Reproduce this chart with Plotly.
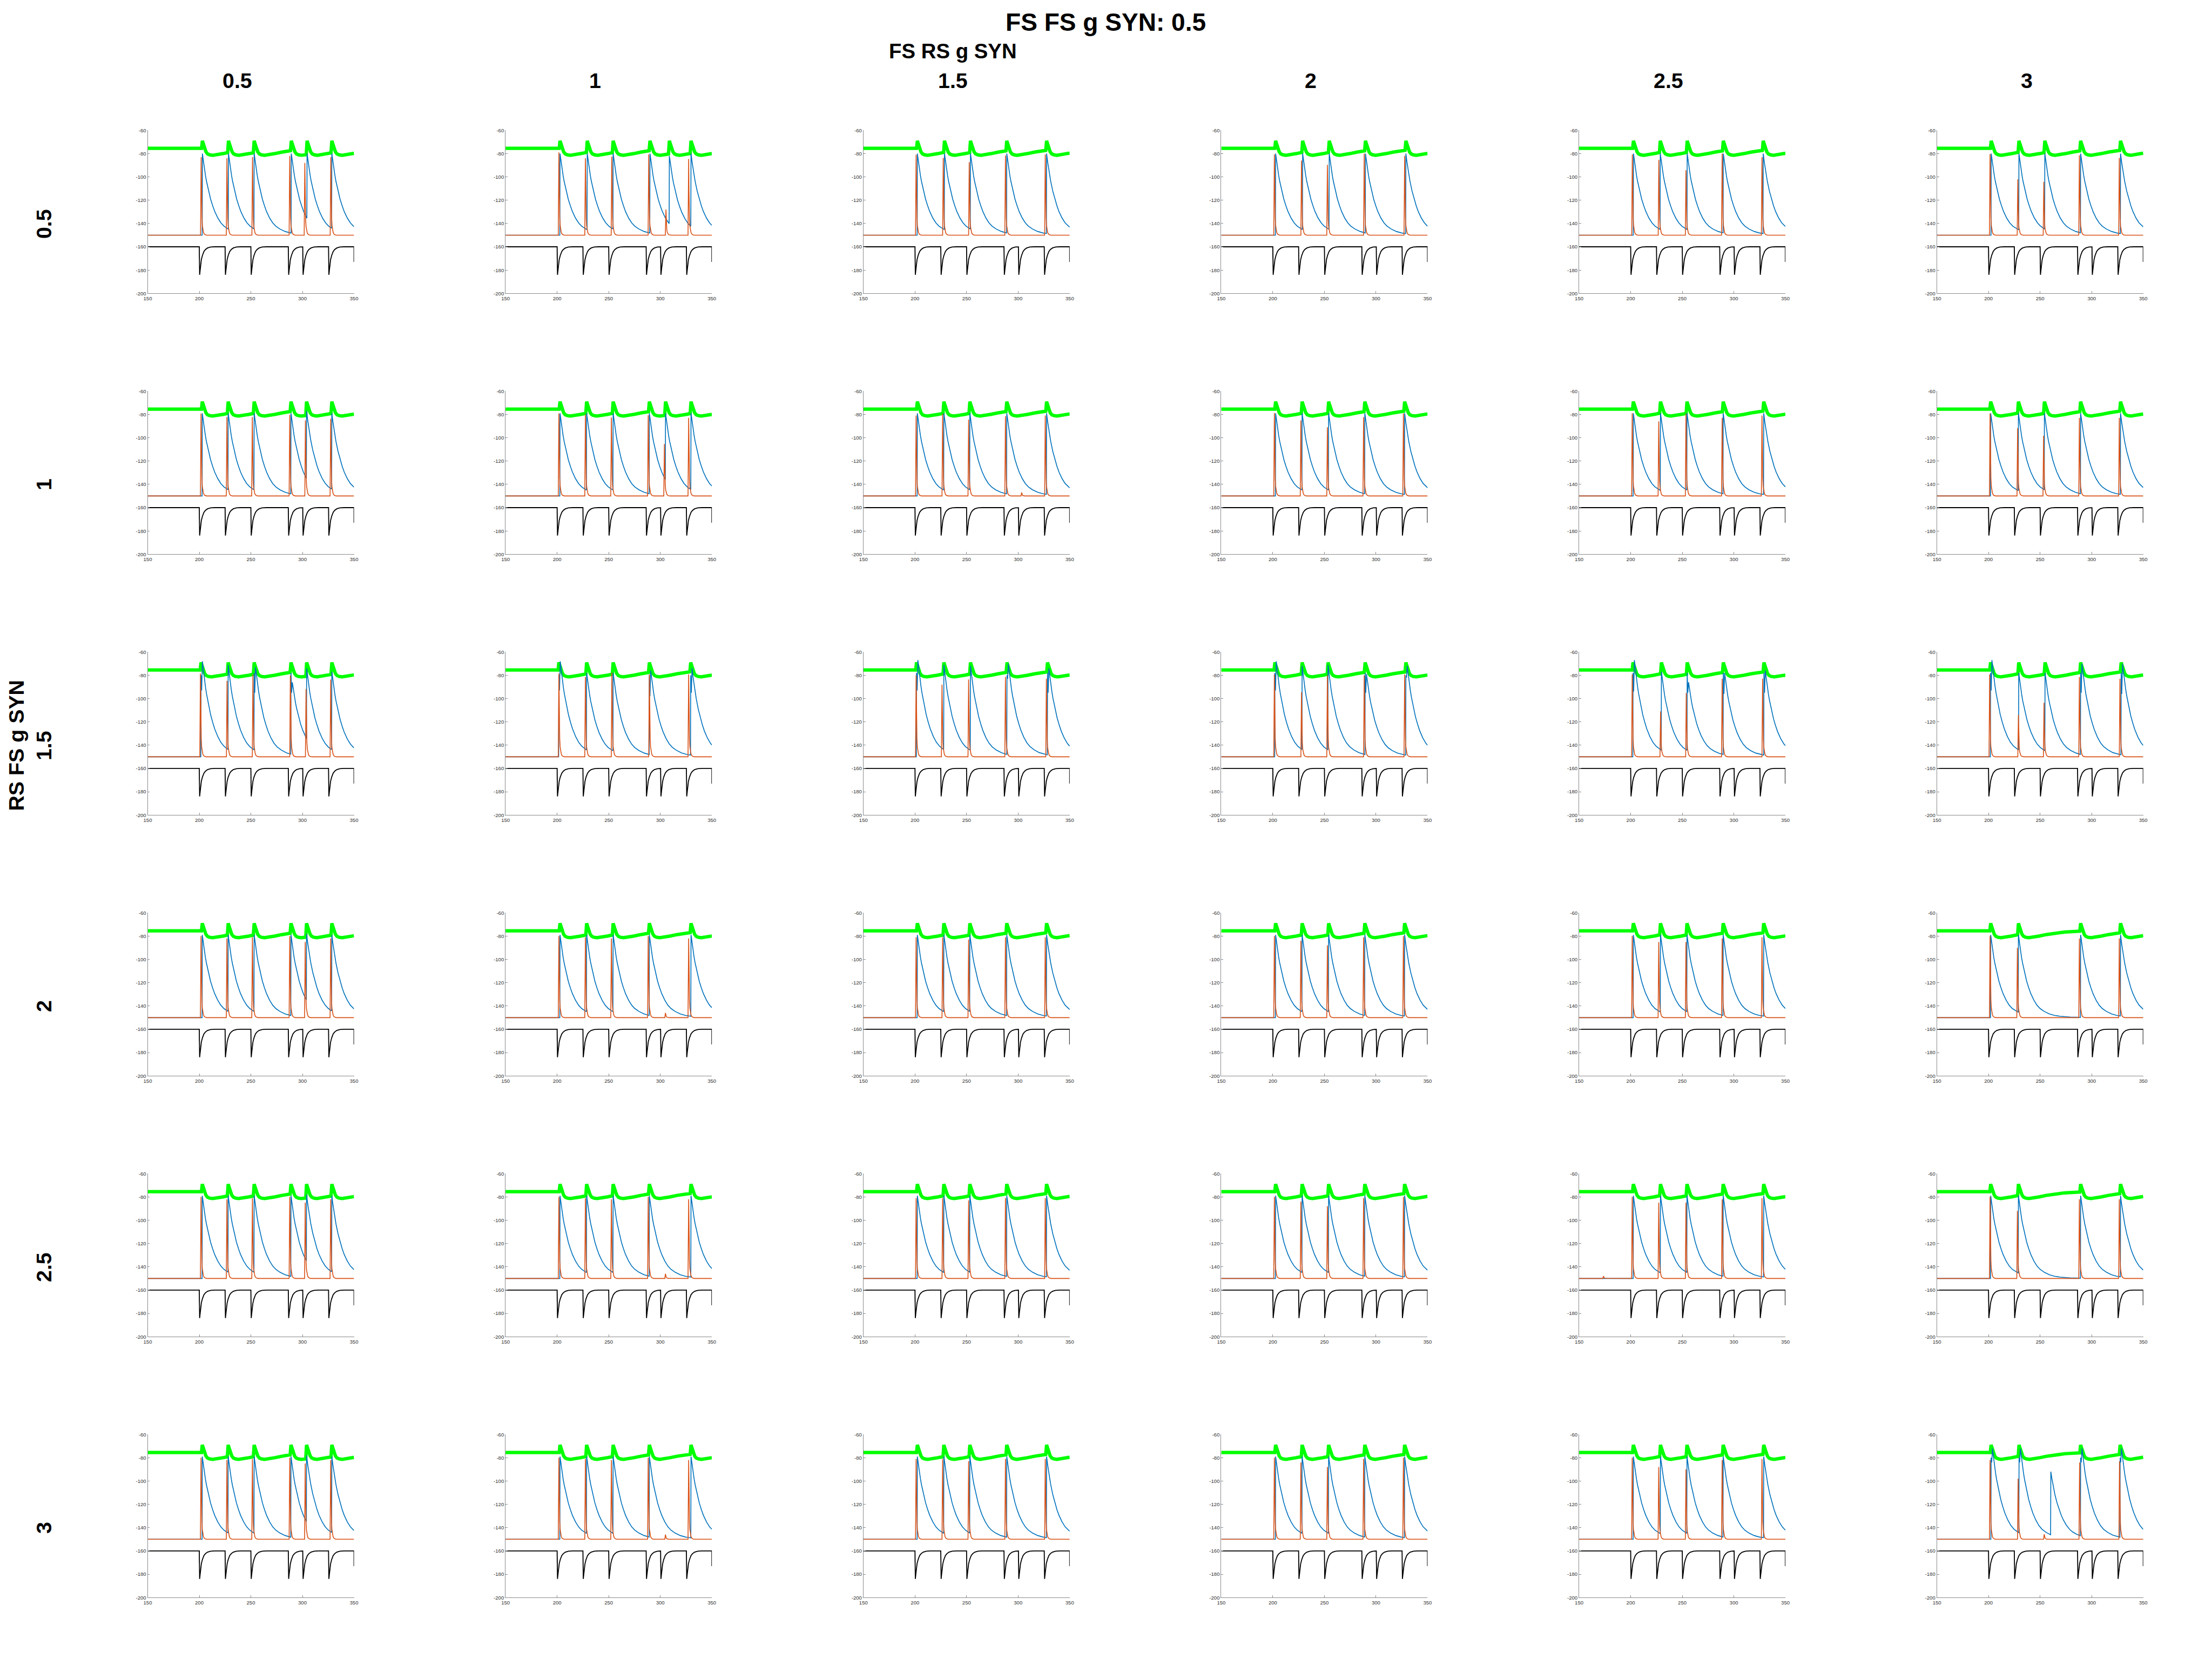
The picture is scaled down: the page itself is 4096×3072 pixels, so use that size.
import numpy as np
import plotly.graph_objects as go

# ---------------- reference geometry (reference pixels) ----------------
W, H = 4096, 3072
RW, RH = 4267, 3200
S = W / RW

# ---------------- data ----------------
TITLE = "FS FS g SYN: 0.5"
COL_TITLE = "FS RS g SYN"
ROW_TITLE = "RS FS g SYN"
COL_LABELS = ["0.5", "1", "1.5", "2", "2.5", "3"]
ROW_LABELS = ["0.5", "1", "1.5", "2", "2.5", "3"]
X_TICKS = [150, 200, 250, 300, 350]
Y_TICKS = [-200, -180, -160, -140, -120, -100, -80, -60]

# stimulus (black) input times, same in every panel; last one truncated at 350
INPUT_TIMES = [200.0, 225.0, 250.0, 286.3, 300.3, 325.3]
INPUT_END_VALUE = -173.0

# waveform shapes
BLACK_DT = [0, 0.1, 0.35, 0.7, 1.2, 2, 3, 4.5, 6, 8, 11, 15]
BLACK_V = [-160, -170, -184, -181, -176, -171, -167.5, -164, -162.3, -161, -160.2, -160]
BLUE_DT = [0, 1, 2, 3, 4, 6, 8, 10, 12, 15, 18, 21, 25, 30, 35, 40, 50, 60]
BLUE_FRAC = [1, 0.90, 0.81, 0.73, 0.66, 0.54, 0.44, 0.36, 0.29, 0.21, 0.15, 0.11,
             0.075, 0.045, 0.027, 0.017, 0.007, 0.003]
ORANGE_DT = [0, 0.25, 0.5, 0.8, 1.2, 1.7, 2.3, 3.0, 4.0, 5.5]
ORANGE_FRAC = [1, 0.6, 0.38, 0.22, 0.12, 0.065, 0.035, 0.015, 0.005, 0]
GREEN_DT = [0, 0.7, 1.5, 2.5, 3.5, 5, 7, 10, 14, 20, 27, 35, 45, 60, 80]
GREEN_V = [-69, -71, -73.5, -76.5, -78.5, -80.2, -81, -81.4, -81, -80, -78.7,
           -77.5, -76.5, -75.8, -75.5]
GREEN_REST = -75.5
BASE = -150.0

# FS (orange) spikes: (time, peak) per panel, rows = RS FS g, cols = FS RS g
O_R1 = [
    [(201.8, -83), (226.8, -84), (251.6, -83), (287.7, -82), (302.3, -88), (327.5, -83)],
    [(201.7, -79), (227.4, -84), (253.0, -82.6), (288.8, -80.7), (305.5, -128), (327.5, -84.7)],
    [(201.1, -81), (227.4, -83.7), (252.6, -87.3), (287.7, -81.6), (326.3, -80.7)],
    [(201.5, -80.7), (227.8, -85.9), (252.9, -89.6), (288.6, -80), (327.8, -81.9)],
    [(201.6, -80.7), (227.3, -85.4), (253.6, -94.3), (288.7, -80), (327.3, -83.2)],
    [(201.5, -80.4), (228.4, -102), (253.6, -104.3), (288.1, -81.4), (326.8, -83.7)],
]
O_R2 = [
    [(201.7, -79.2), (226.8, -82.2), (251.4, -82.2), (287.7, -80.4), (302.9, -85.1), (327.4, -83.7)],
    [(201.7, -79.2), (227.4, -80), (252.6, -82.6), (288.3, -80.7), (304.0, -105.4), (327.5, -82.9)],
    [(201.1, -81), (226.8, -79.5), (252.0, -84.4), (287.7, -81.6), (303.4, -147), (326.3, -81)],
    [(201.5, -78.9), (227.2, -85.1), (252.9, -91), (288.0, -82.2), (326.6, -79.2)],
    [(201.5, -79), (227.2, -85.9), (253.6, -79.5), (288.7, -82.9), (327.3, -81)],
    [(201.5, -79.2), (228.2, -91.8), (253.4, -98.4), (288.1, -82.9), (326.8, -82.9)],
]
O_R3 = [
    [(201.1, -78.5), (226.9, -84.8), (252.0, -79.2), (288.3, -80), (303.5, -91.8), (327.4, -83.7)],
    [(201.7, -78.5), (227.4, -81.4), (253.1, -77.7), (289.4, -79.2), (327.5, -79.2)],
    [(201.1, -80), (226.2, -88), (252.0, -83.7), (287.7, -81.4), (327.4, -82.9)],
    [(201.5, -79.2), (227.8, -94.7), (252.9, -80), (288.6, -80), (327.8, -79.2)],
    [(201.5, -79.2), (229.0, -111), (253.9, -95.2), (288.7, -82.9), (327.9, -82.9)],
    [(201.1, -79.2), (229.0, -114), (253.8, -103.6), (288.1, -81.4), (327.4, -82.9)],
]
O_R4 = [
    [(201.7, -80), (226.8, -82), (251.5, -81), (287.7, -80), (302.7, -85), (327.4, -82)],
    [(201.7, -80), (227.4, -81), (252.6, -82), (288.3, -80), (305.0, -146), (327.5, -82)],
    [(201.1, -81), (226.8, -81), (252.0, -83), (287.7, -81), (326.3, -81)],
    [(201.5, -80), (227.2, -84), (252.9, -88), (288.0, -81), (326.6, -80)],
    [(201.5, -80), (227.2, -85), (253.6, -85), (288.7, -82), (327.3, -81)],
    [(201.5, -80), (228.0, -90), (288.1, -82), (326.8, -82)],
]
O_R5 = [
    [(201.7, -80), (226.8, -82), (251.5, -81), (287.7, -80), (302.7, -85), (327.4, -82)],
    [(201.7, -80), (227.4, -81), (252.6, -82), (288.3, -80), (305.0, -146), (327.5, -82)],
    [(201.1, -81), (226.8, -81), (252.0, -83), (287.7, -81), (326.3, -81)],
    [(201.5, -80), (227.2, -84), (252.9, -88), (288.0, -81), (326.6, -80)],
    [(173.6, -148), (201.5, -80), (227.2, -85), (253.6, -85), (288.7, -82), (327.3, -81)],
    [(201.5, -80), (228.0, -92), (288.1, -82), (326.8, -82)],
]
O_R6 = [
    [(201.7, -80), (226.8, -82), (251.5, -81), (287.7, -80), (302.7, -85), (327.4, -82)],
    [(201.7, -80), (227.4, -81), (252.6, -82), (288.3, -80), (305.0, -146), (327.5, -82)],
    [(201.1, -81), (226.8, -81), (252.0, -83), (287.7, -81), (326.3, -81)],
    [(201.5, -80), (227.2, -84), (252.9, -88), (288.0, -81), (326.6, -80)],
    [(201.5, -80), (227.2, -88), (253.6, -90), (288.7, -82), (327.3, -81)],
    [(201.5, -82), (228.7, -98), (254.0, -145.6), (288.3, -84), (327.0, -83)],
]

# RS (blue) spikes: (time, peak) or (time, peak, dip, second peak)
B_R1 = [
    [(203.0, -80), (228.3, -80), (253.2, -80), (289.2, -80), (304.5, -80), (328.5, -80)],
    [(202.8, -80), (229.2, -80), (254.3, -80), (290.0, -80), (308.8, -82), (329.8, -80)],
    [(202.3, -80), (228.6, -80), (253.8, -80), (289.0, -80), (327.6, -80)],
    [(202.7, -80), (228.9, -80), (254.7, -80), (289.8, -80), (329.0, -80)],
    [(202.7, -80), (228.7, -80), (254.8, -80), (289.8, -80), (328.5, -80)],
    [(202.6, -80), (229.5, -80), (254.6, -80), (289.3, -80), (328.0, -80)],
]
B_R2 = [
    [(202.9, -79), (228.0, -79), (253.2, -79), (288.9, -79), (304.0, -77), (328.5, -79)],
    [(202.8, -79), (228.6, -79), (254.3, -79), (289.4, -79), (305.1, -79), (329.8, -79)],
    [(202.3, -79), (228.0, -79), (253.2, -79), (289.0, -79), (327.6, -79)],
    [(202.7, -79), (228.4, -79), (254.1, -79), (289.2, -79), (327.8, -79)],
    [(202.6, -79), (228.9, -79), (254.6, -79), (289.7, -79), (329.0, -79)],
    [(202.1, -79), (229.0, -79), (254.2, -79), (289.3, -79), (328.0, -79)],
]
B_R3 = [
    [(201.7, -80, -93, -68), (228.0, -71), (253.2, -78, -95, -73), (288.9, -78, -95, -86), (304.1, -74), (328.5, -77)],
    [(201.7, -80, -93, -68), (228.6, -78), (254.3, -78), (289.4, -80, -98, -76), (329.5, -80, -95, -74)],
    [(201.5, -78, -93, -67), (228.0, -71), (253.8, -72), (289.2, -80, -83, -70), (328.5, -78, -95, -74)],
    [(202.0, -78, -93, -68), (228.4, -72), (253.5, -71), (289.5, -78, -95, -79), (329.0, -80, -82, -72)],
    [(202.3, -78, -94, -67), (229.8, -77), (254.8, -78, -95, -86), (289.8, -78, -96, -78), (329.2, -78, -95, -76)],
    [(202.0, -78, -93, -67), (229.3, -78), (254.8, -78), (289.3, -78, -95, -70), (328.6, -78, -96, -70)],
]
B_R4 = [
    [(202.9, -79), (228.0, -79), (253.2, -79), (288.9, -79), (304.0, -78), (328.5, -79)],
    [(202.8, -79), (228.6, -79), (254.3, -79), (289.4, -79), (329.8, -79)],
    [(202.3, -79), (228.0, -79), (253.2, -79), (289.0, -79), (327.6, -79)],
    [(202.7, -79), (228.4, -79), (254.1, -79), (289.2, -79), (327.8, -79)],
    [(202.6, -79), (228.9, -79), (254.6, -79), (289.7, -79), (329.0, -79)],
    [(202.1, -79), (229.0, -79), (289.3, -79), (328.0, -79)],
]
B_R5 = [
    [(202.9, -79), (228.0, -79), (253.2, -79), (288.9, -79), (304.0, -78), (328.5, -79)],
    [(202.8, -79), (228.6, -79), (254.3, -79), (289.4, -79), (329.8, -79)],
    [(202.3, -79), (228.0, -79), (253.2, -79), (289.0, -79), (327.6, -79)],
    [(202.7, -79), (228.4, -79), (254.1, -79), (289.2, -79), (327.8, -79)],
    [(202.6, -79), (228.9, -79), (254.6, -79), (289.7, -79), (329.0, -79)],
    [(202.1, -79), (229.0, -79), (289.3, -79), (328.0, -79)],
]
B_R6 = [
    [(202.9, -79), (228.0, -79), (253.2, -79), (288.9, -79), (304.0, -78), (328.5, -79)],
    [(202.8, -79), (228.6, -79), (254.3, -79), (289.4, -79), (329.8, -79)],
    [(202.3, -79), (228.0, -79), (253.2, -79), (289.0, -79), (327.6, -79)],
    [(202.7, -79), (228.4, -79), (254.1, -79), (289.2, -79), (327.8, -79)],
    [(202.6, -79), (228.9, -79), (254.6, -79), (289.7, -79), (329.0, -79)],
    [(202.5, -80, -84, -72), (229.6, -80, -84, -72), (260.4, -92), (289.3, -80, -84, -72), (327.6, -80, -84, -72)],
]

ORANGE_ROWS = [O_R1, O_R2, O_R3, O_R4, O_R5, O_R6]
BLUE_ROWS = [B_R1, B_R2, B_R3, B_R4, B_R5, B_R6]

# ---------------- colours ----------------
C_GREEN = "#00FF00"
C_BLUE = "#0072BD"
C_ORANGE = "#D95319"
C_BLACK = "#000000"
C_AXIS = "#8a8a8a"
C_TICKTXT = "#333333"

T0, T1 = 150.0, 350.0


# ---------------- trace builders ----------------
def rel_decay(t0, v0, base, dts, fracs, t_end):
    pts = []
    for dt, f in zip(dts, fracs):
        t = t0 + dt
        if t >= t_end:
            break
        pts.append((t, base + (v0 - base) * f))
    f_end = float(np.interp(t_end - t0, dts, fracs))
    pts.append((t_end, base + (v0 - base) * f_end))
    return pts


def abs_decay(t0, dts, vals, t_end):
    pts = []
    for dt, v in zip(dts, vals):
        t = t0 + dt
        if t >= t_end:
            break
        pts.append((t, v))
    pts.append((t_end, float(np.interp(t_end - t0, dts, vals))))
    return pts


def spike_trace(spikes, dts, fracs, rise):
    pts = [(T0, BASE)]
    state = None
    for sp in spikes:
        t, peak = sp[0], sp[1]
        tr = t - rise
        if state is None:
            pts.append((tr, BASE))
        else:
            pts += rel_decay(state[0], state[1], BASE, dts, fracs, tr)
        pts.append((t, peak))
        if len(sp) > 2:
            pts.append((t + 0.6, sp[2]))
            pts.append((t + 1.3, sp[3]))
            state = (t + 1.3, sp[3])
        else:
            state = (t, peak)
    pts += rel_decay(state[0], state[1], BASE, dts, fracs, T1)
    return pts


def green_trace(blue_spikes):
    pts = [(T0, GREEN_REST)]
    state = None
    times = [sp[0] for sp in blue_spikes if sp[1] > -86]
    for t in times:
        tr = t - 0.8
        if state is None:
            pts.append((tr, GREEN_REST))
        else:
            pts += abs_decay(state, GREEN_DT, GREEN_V, tr)
        state = t
    if state is not None:
        pts += abs_decay(state, GREEN_DT, GREEN_V, T1)
    else:
        pts.append((T1, GREEN_REST))
    return pts


def black_trace():
    pts = [(T0, -160.0)]
    state = None
    for t in INPUT_TIMES:
        if state is None:
            pts.append((t, -160.0))
        else:
            pts += abs_decay(state, BLACK_DT, BLACK_V, t)
        state = t
        pts += [(t + d, v) for d, v in zip(BLACK_DT[1:2], BLACK_V[1:2])]
    pts += abs_decay(state, BLACK_DT, BLACK_V, T1)
    pts.append((T1, INPUT_END_VALUE))
    return pts


def xy(pts):
    pts = [p for p in pts if T0 <= p[0] <= T1]
    return [p[0] for p in pts], [p[1] for p in pts]


# ---------------- figure ----------------
fig = go.Figure()

AX_LEFT0, AX_DX, AX_W = 277.7, 693.0, 399.5
AX_TOP0, AX_DY, AX_H = 246.0, 504.9, 315.7

layout = dict(
    width=W, height=H,
    margin=dict(l=0, r=0, t=0, b=0),
    paper_bgcolor="white", plot_bgcolor="white",
    showlegend=False,
)

blk_x, blk_y = xy(black_trace())

for r in range(6):
    for c in range(6):
        k = r * 6 + c + 1
        sx = "" if k == 1 else str(k)
        left = AX_LEFT0 + c * AX_DX
        top = AX_TOP0 + r * AX_DY
        xd = [left / RW, (left + AX_W) / RW]
        yd = [1 - (top + AX_H) / RH, 1 - top / RH]
        common = dict(
            showline=True, linecolor=C_AXIS, linewidth=1,
            ticks="inside", ticklen=4 * S, tickwidth=1, tickcolor=C_AXIS,
            showgrid=False, zeroline=False, mirror=False,
            tickfont=dict(family="Liberation Sans, Arial, sans-serif", size=10 * S, color=C_TICKTXT),
            fixedrange=True,
        )
        layout["xaxis" + sx] = dict(domain=xd, anchor="y" + sx, range=[T0, T1],
                                    tickvals=X_TICKS, ticktext=[str(v) for v in X_TICKS], **common)
        layout["yaxis" + sx] = dict(domain=yd, anchor="x" + sx, range=[-200, -60],
                                    tickvals=Y_TICKS, ticktext=[str(v) for v in Y_TICKS], **common)

        blue = BLUE_ROWS[r][c]
        orange = ORANGE_ROWS[r][c]
        gx, gy = xy(green_trace(blue))
        bx, by = xy(spike_trace(blue, BLUE_DT, BLUE_FRAC, 0.2))
        ox, oy = xy(spike_trace(orange, ORANGE_DT, ORANGE_FRAC, 0.6))
        for xs, ys, col, wd in [(gx, gy, C_GREEN, 6.5), (bx, by, C_BLUE, 1.7),
                                (ox, oy, C_ORANGE, 1.7), (blk_x, blk_y, C_BLACK, 1.9)]:
            fig.add_trace(go.Scatter(x=xs, y=ys, mode="lines",
                                     line=dict(color=col, width=wd * S),
                                     xaxis="x" + sx, yaxis="y" + sx,
                                     hoverinfo="skip"))

fig.update_layout(**layout)

FONT = "Liberation Sans, Arial, sans-serif"
ann = []
ann.append(dict(text="<b>%s</b>" % TITLE, x=2133 / RW, y=1 - 37 / RH, xref="paper", yref="paper",
                xanchor="center", yanchor="middle", showarrow=False,
                font=dict(family=FONT, size=48 * S, color="black")))
ann.append(dict(text="<b>%s</b>" % COL_TITLE, x=1837 / RW, y=1 - 93 / RH, xref="paper", yref="paper",
                xanchor="center", yanchor="middle", showarrow=False,
                font=dict(family=FONT, size=40 * S, color="black")))
for c, lab in enumerate(COL_LABELS):
    xc = AX_LEFT0 + c * AX_DX + 173.5
    ann.append(dict(text="<b>%s</b>" % lab, x=xc / RW, y=1 - 150 / RH, xref="paper", yref="paper",
                    xanchor="center", yanchor="middle", showarrow=False,
                    font=dict(family=FONT, size=41 * S, color="black")))
for r, lab in enumerate(ROW_LABELS):
    yc = AX_TOP0 + r * AX_DY + 181
    ann.append(dict(text="<b>%s</b>" % lab, x=77 / RW, y=1 - yc / RH, xref="paper", yref="paper",
                    xanchor="center", yanchor="middle", showarrow=False, textangle=-90,
                    font=dict(family=FONT, size=41 * S, color="black")))
ann.append(dict(text="<b>%s</b>" % ROW_TITLE, x=23 / RW, y=1 - 1436 / RH, xref="paper", yref="paper",
                xanchor="center", yanchor="middle", showarrow=False, textangle=-90,
                font=dict(family=FONT, size=41 * S, color="black")))
fig.update_layout(annotations=ann)

fig.write_html("out.html")
